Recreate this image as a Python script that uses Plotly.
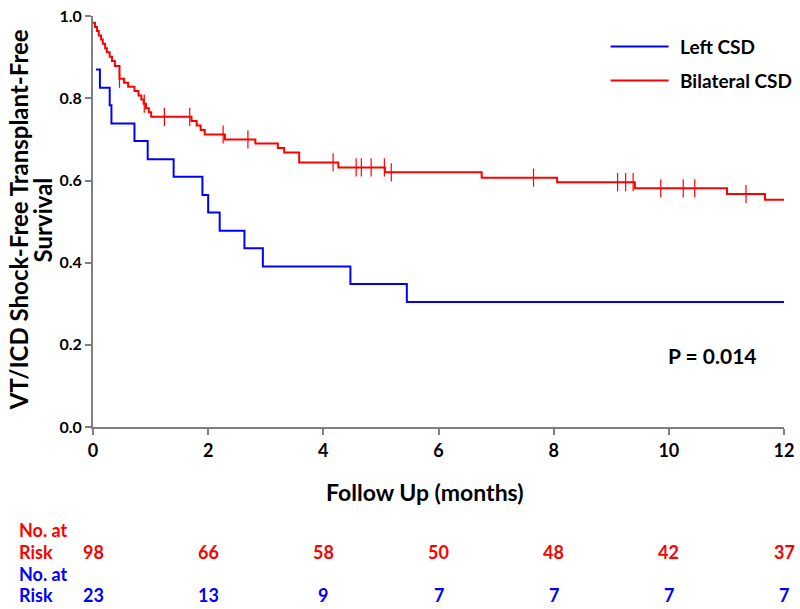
import numpy as np
import plotly.graph_objects as go

# Kaplan-Meier steps (months, survival after step)
RED_T = [0, 0.035, 0.07, 0.10, 0.14, 0.17, 0.21, 0.24, 0.29, 0.33, 0.38, 0.46,
         0.54, 0.61, 0.72, 0.79, 0.84, 0.88, 0.92, 0.97, 1.01, 1.71, 1.80, 1.87,
         1.94, 2.29, 2.82, 3.21, 3.32, 3.58, 4.26, 5.07, 6.75, 8.06, 9.41, 11.01,
         11.67, 12.0]
RED_S = [0.984, 0.974, 0.964, 0.953, 0.943, 0.933, 0.922, 0.912, 0.901, 0.891,
         0.879, 0.848, 0.838, 0.828, 0.818, 0.807, 0.797, 0.787, 0.776, 0.766,
         0.755, 0.745, 0.734, 0.723, 0.712, 0.700, 0.690, 0.679, 0.668, 0.644,
         0.632, 0.620, 0.607, 0.596, 0.581, 0.567, 0.553, 0.553]
RED_CENSOR = [0.46, 0.89, 1.24, 1.68, 2.26, 2.69, 4.17, 4.57, 4.66, 4.83, 5.06,
              5.18, 7.65, 9.11, 9.25, 9.38, 9.86, 10.25, 10.45, 11.34]

BLUE_T = [0.05, 0.12, 0.29, 0.32, 0.72, 0.95, 1.40, 1.90, 2.00, 2.20, 2.63,
          2.95, 4.47, 5.45, 12.0]
BLUE_S = [0.870, 0.826, 0.783, 0.739, 0.696, 0.652, 0.609, 0.565, 0.522,
          0.478, 0.435, 0.391, 0.348, 0.304, 0.304]

RISK_MONTHS = [0, 2, 4, 6, 8, 10, 12]
RISK_BILATERAL = [98, 66, 58, 50, 48, 42, 37]
RISK_LEFT = [23, 13, 9, 7, 7, 7, 7]

RED = "#ff0000"
BLUE = "#0000ff"
GRAY = "#808080"
FONT = "Lato, Open Sans, sans-serif"


def level_at(ts, ss, t):
    i = np.searchsorted(ts, t, side="right") - 1
    return np.asarray(ss)[i]


def note(text, x, y, size, color="black", xref="paper", **kw):
    d = dict(text="<b>%s</b>" % text, x=x, y=y, xref=xref, yref="paper",
             showarrow=False, xanchor="center", yanchor="middle",
             font=dict(family=FONT, size=size, color=color))
    d.update(kw)
    return d


fig = go.Figure()
fig.add_trace(go.Scatter(x=BLUE_T, y=BLUE_S, mode="lines", line_shape="hv",
                         line=dict(color=BLUE, width=2), showlegend=False))
fig.add_trace(go.Scatter(x=RED_T, y=RED_S, mode="lines", line_shape="hv",
                         line=dict(color=RED, width=2), showlegend=False))
fig.add_trace(go.Scatter(
    x=RED_CENSOR, y=level_at(RED_T, RED_S, RED_CENSOR), mode="markers",
    marker=dict(symbol="line-ns", size=13, line=dict(color=RED, width=1.2)),
    showlegend=False))

fig.update_xaxes(range=[0, 12], tickvals=list(range(0, 13, 2)),
                 showline=True, linecolor=GRAY, linewidth=2, ticks="outside",
                 ticklen=6, tickcolor=GRAY, tickwidth=2, showgrid=False,
                 zeroline=False, ticklabeloverflow="allow",
                 tickfont=dict(family=FONT, size=18, color="black", weight="bold"))
fig.update_yaxes(range=[0, 1.0005], tickvals=[0, 0.2, 0.4, 0.6, 0.8, 1.0],
                 tickformat=".1f", showline=True, linecolor=GRAY, linewidth=2,
                 ticks="outside", ticklen=6, tickcolor=GRAY, tickwidth=2,
                 showgrid=False, zeroline=False, ticklabeloverflow="allow",
                 tickfont=dict(family=FONT, size=16, color="black", weight="bold"))

ann = [
    note("VT/ICD Shock-Free Transplant-Free", -0.108, 0.504, 24, textangle=-90),
    note("Survival", -0.073, 0.504, 24, textangle=-90),
    note("Follow Up (months)", 0.48, -0.157, 23),
    note("P = 0.014", 0.896, 0.173, 21),
]
# legend
for label, color, yy in [("Left CSD", BLUE, 0.926), ("Bilateral CSD", RED, 0.843)]:
    fig.add_shape(type="line", xref="paper", yref="paper", x0=0.749, x1=0.833,
                  y0=yy, y1=yy, line=dict(color=color, width=2))
    ann.append(note(label, 0.847, yy, 19, xanchor="left"))

# number at risk table
for counts, color, y_top, y_row in [(RISK_BILATERAL, RED, -0.251, -0.304),
                                    (RISK_LEFT, BLUE, -0.357, -0.409)]:
    ann.append(note("No. at", -0.11, y_top, 18, color, xanchor="left"))
    ann.append(note("Risk", -0.11, y_row, 18, color, xanchor="left"))
    for m, n in zip(RISK_MONTHS, counts):
        ann.append(note(n, m, y_row, 18, color, xref="x"))

fig.update_layout(width=800, height=609, margin=dict(l=93, r=14, t=6, b=182),
                  plot_bgcolor="white", paper_bgcolor="white",
                  annotations=ann, showlegend=False)
fig.write_html("out.html", config={"displayModeBar": False},
               post_script="document.body.style.margin='0';"
                           "document.body.style.overflow='hidden';")
